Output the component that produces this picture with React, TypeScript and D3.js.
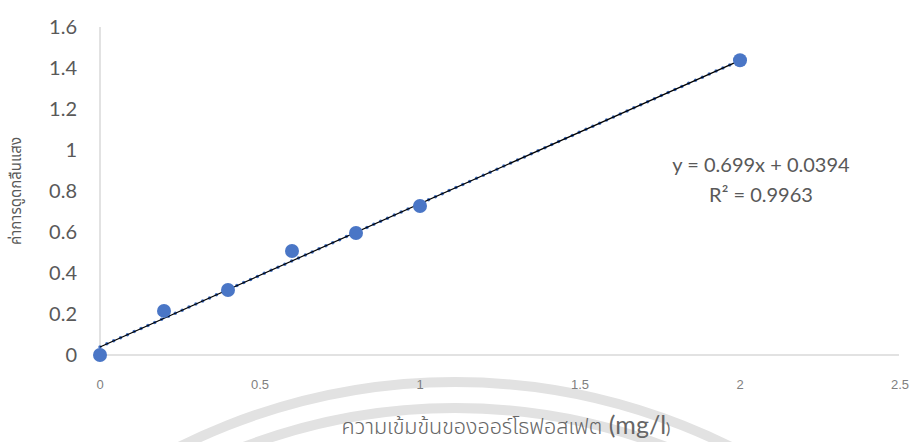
import React from "react";
import * as d3 from "d3";

const concentrations = [0, 0.2, 0.4, 0.6, 0.8, 1, 2];
const absorbances = [0, 0.215, 0.317, 0.507, 0.595, 0.727, 1.438];
const slope = 0.699;
const intercept = 0.0394;
const xTicks = [0, 0.5, 1, 1.5, 2, 2.5];
const yTicks = [0, 0.2, 0.4, 0.6, 0.8, 1, 1.2, 1.4, 1.6];
const equationLines = ["y = 0.699x + 0.0394", "R² = 0.9963"];
const xTitle = "ความเข้มข้นของออร์โธฟอสเฟต";
const yTitle = "ค่าการดูดกลืนแสง";

const W = 913;
const H = 442;

export default function App() {
  const x = d3.scaleLinear().domain([0, 2.5]).range([100, 900]);
  const y = d3.scaleLinear().domain([0, 1.6]).range([355, 27]);
  const trendX = [0, 2];
  const line = d3
    .line<number>()
    .x((d) => x(d))
    .y((d) => y(slope * d + intercept));
  const trendPath = line(trendX) || "";

  const tickFont = "Lato, 'Open Sans', sans-serif";
  const thaiFont = "'Noto Sans Thai', 'Noto Sans Thai UI', Tahoma, 'DejaVu Sans', sans-serif";

  return (
    <svg
      width={W}
      height={H}
      viewBox={`0 0 ${W} ${H}`}
      style={{ position: "absolute", left: 0, top: 0, background: "#fff" }}
    >
      {/* watermark arcs */}
      <circle cx={455} cy={1000} r={618} fill="none" stroke="#e2e2e2" strokeWidth={10} />
      <circle cx={455} cy={1000} r={592} fill="none" stroke="#e2e2e2" strokeWidth={10} />

      {/* axes */}
      <line x1={x(0)} x2={x(0)} y1={y(1.6)} y2={y(0)} stroke="#d9d9d9" strokeWidth={1.5} />
      <line x1={x(0)} x2={x(2.5) - 1} y1={y(0)} y2={y(0)} stroke="#d9d9d9" strokeWidth={1.5} />

      {/* y ticks */}
      {yTicks.map((t) => (
        <text
          key={"y" + t}
          x={77}
          y={y(t)}
          dy="0.35em"
          textAnchor="end"
          fontFamily={tickFont}
          fontSize={20}
          fill="#595959"
        >
          {t === 0 ? "0" : d3.format("~g")(t)}
        </text>
      ))}

      {/* x ticks */}
      {xTicks.map((t) => (
        <text
          key={"x" + t}
          x={x(t)}
          y={389}
          textAnchor="middle"
          fontFamily="'Liberation Sans', Arial, sans-serif"
          fontSize={13}
          fill="#7f7f7f"
        >
          {d3.format("~g")(t)}
        </text>
      ))}

      {/* trendline */}
      <path
        d={trendPath}
        fill="none"
        stroke="#4472C4"
        strokeWidth={3.5}
        strokeLinecap="round"
        strokeDasharray="0 7.5"
      />
      <path d={trendPath} fill="none" stroke="#000" strokeWidth={1.2} />

      {/* points */}
      {concentrations.map((c, i) => (
        <circle key={"p" + i} cx={x(c)} cy={y(absorbances[i])} r={7} fill="#4a76c6" />
      ))}

      {/* equation */}
      {equationLines.map((l, i) => (
        <text
          key={"eq" + i}
          x={761}
          y={172 + i * 30}
          textAnchor="middle"
          fontFamily={tickFont}
          fontSize={20}
          fill="#595959"
        >
          {l}
        </text>
      ))}

      {/* x title */}
      <text x={506} y={434} textAnchor="middle" fill="#666666" fontFamily={thaiFont}>
        <tspan fontSize={21.5} fontWeight={300}>{xTitle}</tspan>
        <tspan fontSize={25} fontFamily={tickFont}> (mg/l</tspan>
        <tspan fontSize={16} fontFamily={tickFont}>)</tspan>
      </text>

      {/* y title */}
      <text
        transform={`translate(21,191) rotate(-90)`}
        textAnchor="middle"
        fontFamily={thaiFont}
        fontSize={15}
        fill="#595959"
      >
        {yTitle}
      </text>
    </svg>
  );
}
